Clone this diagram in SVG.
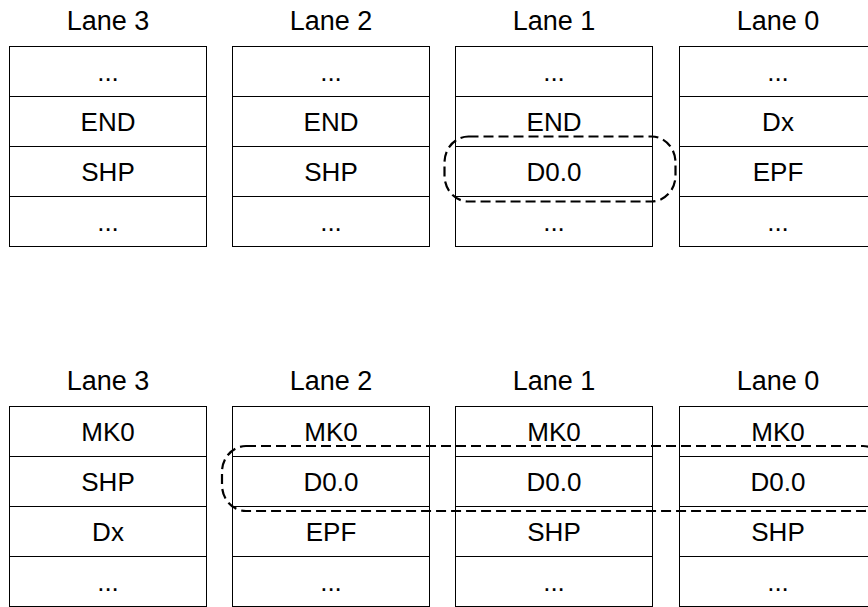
<svg xmlns="http://www.w3.org/2000/svg" width="868" height="607" viewBox="0 0 868 607">
  <style>
    .cell { fill: #ffffff; stroke: #000000; stroke-width: 1; }
    .txt { font-family: "Liberation Sans", Arial, sans-serif; font-size: 26px; fill: #000000; text-anchor: middle; }
    .lbl { font-family: "Liberation Sans", Arial, sans-serif; font-size: 27px; fill: #000000; text-anchor: middle; }
    .hl { fill: none; stroke: #000000; stroke-width: 2.2; stroke-dasharray: 10 5; }
  </style>
  <rect width="868" height="607" fill="#ffffff"/>

  <!-- Upper set of lanes -->
  <g id="top-lane3" transform="translate(9.5,46.5)">
    <text class="lbl" x="98.5" y="-17">Lane 3</text>
    <rect class="cell" x="0" y="0" width="197" height="50"/>
    <rect class="cell" x="0" y="50" width="197" height="50"/>
    <rect class="cell" x="0" y="100" width="197" height="50"/>
    <rect class="cell" x="0" y="150" width="197" height="50"/>
    <text class="txt" x="98.5" y="34">...</text>
    <text class="txt" x="98.5" y="84">END</text>
    <text class="txt" x="98.5" y="134">SHP</text>
    <text class="txt" x="98.5" y="184">...</text>
  </g>
  <g id="top-lane2" transform="translate(232.5,46.5)">
    <text class="lbl" x="98.5" y="-17">Lane 2</text>
    <rect class="cell" x="0" y="0" width="197" height="50"/>
    <rect class="cell" x="0" y="50" width="197" height="50"/>
    <rect class="cell" x="0" y="100" width="197" height="50"/>
    <rect class="cell" x="0" y="150" width="197" height="50"/>
    <text class="txt" x="98.5" y="34">...</text>
    <text class="txt" x="98.5" y="84">END</text>
    <text class="txt" x="98.5" y="134">SHP</text>
    <text class="txt" x="98.5" y="184">...</text>
  </g>
  <g id="top-lane1" transform="translate(455.5,46.5)">
    <text class="lbl" x="98.5" y="-17">Lane 1</text>
    <rect class="cell" x="0" y="0" width="197" height="50"/>
    <rect class="cell" x="0" y="50" width="197" height="50"/>
    <rect class="cell" x="0" y="100" width="197" height="50"/>
    <rect class="cell" x="0" y="150" width="197" height="50"/>
    <text class="txt" x="98.5" y="34">...</text>
    <text class="txt" x="98.5" y="84">END</text>
    <text class="txt" x="98.5" y="134">D0.0</text>
    <text class="txt" x="98.5" y="184">...</text>
  </g>
  <g id="top-lane0" transform="translate(679.5,46.5)">
    <text class="lbl" x="98.5" y="-17">Lane 0</text>
    <rect class="cell" x="0" y="0" width="197" height="50"/>
    <rect class="cell" x="0" y="50" width="197" height="50"/>
    <rect class="cell" x="0" y="100" width="197" height="50"/>
    <rect class="cell" x="0" y="150" width="197" height="50"/>
    <text class="txt" x="98.5" y="34">...</text>
    <text class="txt" x="98.5" y="84">Dx</text>
    <text class="txt" x="98.5" y="134">EPF</text>
    <text class="txt" x="98.5" y="184">...</text>
  </g>

  <!-- Lower set of lanes -->
  <g id="bottom-lane3" transform="translate(9.5,406.5)">
    <text class="lbl" x="98.5" y="-17">Lane 3</text>
    <rect class="cell" x="0" y="0" width="197" height="50"/>
    <rect class="cell" x="0" y="50" width="197" height="50"/>
    <rect class="cell" x="0" y="100" width="197" height="50"/>
    <rect class="cell" x="0" y="150" width="197" height="50"/>
    <text class="txt" x="98.5" y="34">MK0</text>
    <text class="txt" x="98.5" y="84">SHP</text>
    <text class="txt" x="98.5" y="134">Dx</text>
    <text class="txt" x="98.5" y="184">...</text>
  </g>
  <g id="bottom-lane2" transform="translate(232.5,406.5)">
    <text class="lbl" x="98.5" y="-17">Lane 2</text>
    <rect class="cell" x="0" y="0" width="197" height="50"/>
    <rect class="cell" x="0" y="50" width="197" height="50"/>
    <rect class="cell" x="0" y="100" width="197" height="50"/>
    <rect class="cell" x="0" y="150" width="197" height="50"/>
    <text class="txt" x="98.5" y="34">MK0</text>
    <text class="txt" x="98.5" y="84">D0.0</text>
    <text class="txt" x="98.5" y="134">EPF</text>
    <text class="txt" x="98.5" y="184">...</text>
  </g>
  <g id="bottom-lane1" transform="translate(455.5,406.5)">
    <text class="lbl" x="98.5" y="-17">Lane 1</text>
    <rect class="cell" x="0" y="0" width="197" height="50"/>
    <rect class="cell" x="0" y="50" width="197" height="50"/>
    <rect class="cell" x="0" y="100" width="197" height="50"/>
    <rect class="cell" x="0" y="150" width="197" height="50"/>
    <text class="txt" x="98.5" y="34">MK0</text>
    <text class="txt" x="98.5" y="84">D0.0</text>
    <text class="txt" x="98.5" y="134">SHP</text>
    <text class="txt" x="98.5" y="184">...</text>
  </g>
  <g id="bottom-lane0" transform="translate(679.5,406.5)">
    <text class="lbl" x="98.5" y="-17">Lane 0</text>
    <rect class="cell" x="0" y="0" width="197" height="50"/>
    <rect class="cell" x="0" y="50" width="197" height="50"/>
    <rect class="cell" x="0" y="100" width="197" height="50"/>
    <rect class="cell" x="0" y="150" width="197" height="50"/>
    <text class="txt" x="98.5" y="34">MK0</text>
    <text class="txt" x="98.5" y="84">D0.0</text>
    <text class="txt" x="98.5" y="134">SHP</text>
    <text class="txt" x="98.5" y="184">...</text>
  </g>

  <!-- Dashed outlines grouping the D0.0 symbols -->
  <g id="connectors">
    <rect class="hl" x="444.5" y="136.5" width="231" height="65" rx="24" ry="26"/>
    <rect class="hl" x="222" y="446" width="665" height="65" rx="24" ry="26"/>
  </g>
</svg>
